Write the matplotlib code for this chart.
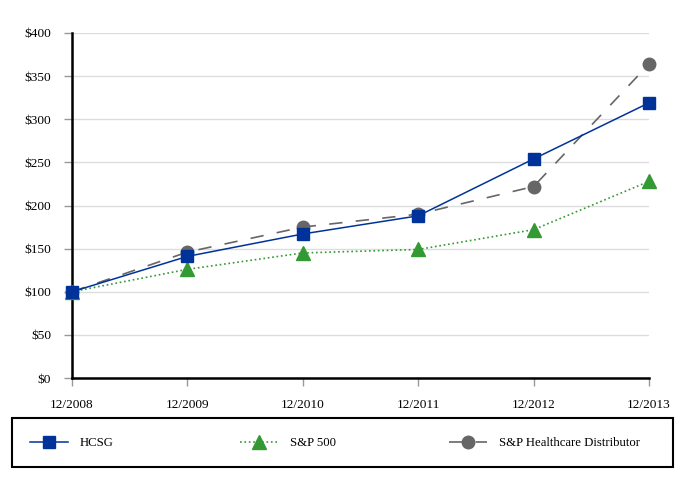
import matplotlib
matplotlib.use("Agg")
import matplotlib.pyplot as plt
from matplotlib.ticker import FuncFormatter
from matplotlib.patches import Rectangle

years = ["12/2008", "12/2009", "12/2010", "12/2011", "12/2012", "12/2013"]
hcsg = [100, 141, 167, 188, 254, 319]
sp500 = [100, 126, 145, 149, 172, 228]
sp_hc = [100, 146, 175, 190, 222, 364]

plt.rcParams['font.family'] = ['Liberation Serif', 'DejaVu Serif']
plt.rcParams['font.size'] = 9.6

W, H = 682, 480
fig = plt.figure(figsize=(6.82, 4.80), dpi=100)
ax = fig.add_axes([72/W, 1-378/H, (649-72)/W, (378-33)/H])

x = list(range(len(years)))
l_hc, = ax.plot(x, sp_hc, color='#666666', linestyle=(0, (8, 8)), linewidth=1.2,
                marker='o', markersize=9, label='S&P Healthcare Distributor', zorder=3)
l_sp, = ax.plot(x, sp500, color='#339933', linestyle=':', linewidth=1.2,
                marker='^', markersize=9.5, label='S&P 500', zorder=4)
l_hcsg, = ax.plot(x, hcsg, color='#003399', linestyle='-', linewidth=1.1,
                  marker='s', markersize=9, label='HCSG', zorder=5)

ax.set_xlim(0, len(years)-1)
ax.set_ylim(0, 400)
ax.set_xticks(x)
ax.set_xticklabels(years)
ax.set_yticks(range(0, 401, 50))
ax.yaxis.set_major_formatter(FuncFormatter(lambda v, p: f"${int(v)}"))
ax.grid(axis='y', color='#dddddd', linewidth=1)
ax.set_axisbelow(True)
for s in ['top', 'right']:
    ax.spines[s].set_visible(False)
for s in ['left', 'bottom']:
    ax.spines[s].set_linewidth(1.8)
    ax.spines[s].set_color('black')
ax.tick_params(axis='y', length=6, width=1, color='#999999', pad=9)
ax.tick_params(axis='x', length=6, width=1, color='#999999', pad=9)
for line in ax.lines:
    line.set_clip_on(False)

# legend frame
fig.patches.append(Rectangle((12/W, 1-467/H), (673-12)/W, 49/H, transform=fig.transFigure,
                             fill=False, edgecolor='black', linewidth=1.5))
yc = 1-443/H
for h, lab, xs in [(l_hcsg, 'HCSG', 30), (l_sp, 'S&P 500', 240), (l_hc, 'S&P Healthcare Distributor', 449)]:
    fig.legend([h], [lab], loc='center left', bbox_to_anchor=(xs/W, yc),
               frameon=False, handlelength=3.0, handletextpad=0.9,
               borderpad=0, borderaxespad=0, fontsize=9.2)

fig.savefig("out.png", dpi=100)
